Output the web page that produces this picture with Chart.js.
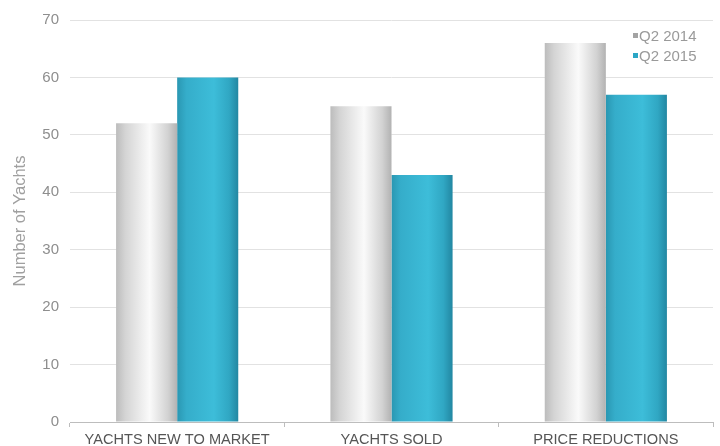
<!DOCTYPE html>
<html>
<head>
<meta charset="utf-8">
<style>
  html, body { margin: 0; padding: 0; background: #fff; }
  #wrap { width: 720px; height: 446px; }
</style>
<script src="https://cdn.jsdelivr.net/npm/chart.js@4.4.1/dist/chart.umd.min.js"></script>
</head>
<body>
<div id="wrap"><canvas id="myChart" width="720" height="446"></canvas></div>
<script>
// Chart data
const categories = ["YACHTS NEW TO MARKET", "YACHTS SOLD", "PRICE REDUCTIONS"];
const seriesNames = ["Q2 2014", "Q2 2015"];
const q2014 = [52, 55, 66];
const q2015 = [60, 43, 57];
const yTicks = [0, 10, 20, 30, 40, 50, 60, 70];

const FONT = "'Liberation Sans', Arial, Helvetica, sans-serif";
const catPct = 0.57;

// cylinder-like shading for each bar
const grayStops = [[0, '#bcbcbc'], [0.15, '#d4d4d4'], [0.55, '#fafafa'], [0.85, '#d2d2d2'], [1, '#b2b2b2']];
const tealStops = [[0, '#2a97b2'], [0.15, '#35adca'], [0.6, '#3dbdd9'], [0.85, '#30a7c3'], [1, '#2287a2']];

function barGradient(ctx, stops) {
    const chart = ctx.chart;
    const x = chart.scales.x;
    if (!x || !chart.chartArea || ctx.dataIndex === undefined) return stops[2][1];
    const center = x.getPixelForValue(ctx.dataIndex);
    const w = x.width / categories.length * catPct / 2;
    const left = ctx.datasetIndex === 0 ? center - w : center;
    const g = chart.ctx.createLinearGradient(left, 0, left + w, 0);
    stops.forEach(s => g.addColorStop(s[0], s[1]));
    return g;
}

// small legend in the top right corner of the plot
const cornerLegend = {
    id: 'cornerLegend',
    afterDraw(chart) {
        const c = chart.ctx;
        const boxes = ['#a3a3a3', '#2ba6c5'];
        c.save();
        c.font = "15px " + FONT;
        c.textBaseline = 'middle';
        chart.data.datasets.forEach((ds, i) => {
            const y = 37 + i * 20;
            c.fillStyle = boxes[i];
            c.fillRect(633, y - 4, 5, 5);
            c.fillStyle = '#9a9a9a';
            c.fillText(ds.label, 639, y);
        });
        c.restore();
    }
};

const ctx = document.getElementById('myChart').getContext('2d');

const yachtChart = new Chart(ctx, {
    type: 'bar',
    data: {
        labels: categories,
        datasets: [{
            label: seriesNames[0],
            data: q2014,
            backgroundColor: c => barGradient(c, grayStops),
            borderWidth: 0
        }, {
            label: seriesNames[1],
            data: q2015,
            backgroundColor: c => barGradient(c, tealStops),
            borderWidth: 0
        }]
    },
    options: {
        responsive: false,
        animation: false,
        datasets: {
            bar: { categoryPercentage: catPct, barPercentage: 1 }
        },
        layout: { padding: { top: 8, right: 7, left: 0, bottom: 0 } },
        plugins: {
            legend: { display: false },
            tooltip: { enabled: false }
        },
        scales: {
            x: {
                grid: {
                    drawOnChartArea: false,
                    tickLength: 5,
                    color: '#bdbdbd'
                },
                border: { color: '#bdbdbd' },
                ticks: {
                    color: '#555',
                    font: { family: FONT, size: 14.6 },
                    padding: 4,
                    maxRotation: 0
                },
                afterFit: scale => { scale.height = 24; }
            },
            y: {
                min: 0,
                max: 70,
                afterBuildTicks: scale => { scale.ticks = yTicks.map(v => ({ value: v })); },
                grid: {
                    color: '#e2e2e2',
                    drawTicks: false
                },
                border: { display: false },
                ticks: {
                    color: '#8e8e8e',
                    font: { family: FONT, size: 15 },
                    padding: 11
                },
                title: {
                    display: true,
                    text: 'Number of Yachts',
                    color: '#a0a0a0',
                    font: { family: FONT, size: 16.5 },
                    padding: { top: 11, bottom: 0 }
                },
                afterFit: scale => { scale.width = 70; }
            }
        }
    },
    plugins: [cornerLegend]
});
</script>
</body>
</html>
